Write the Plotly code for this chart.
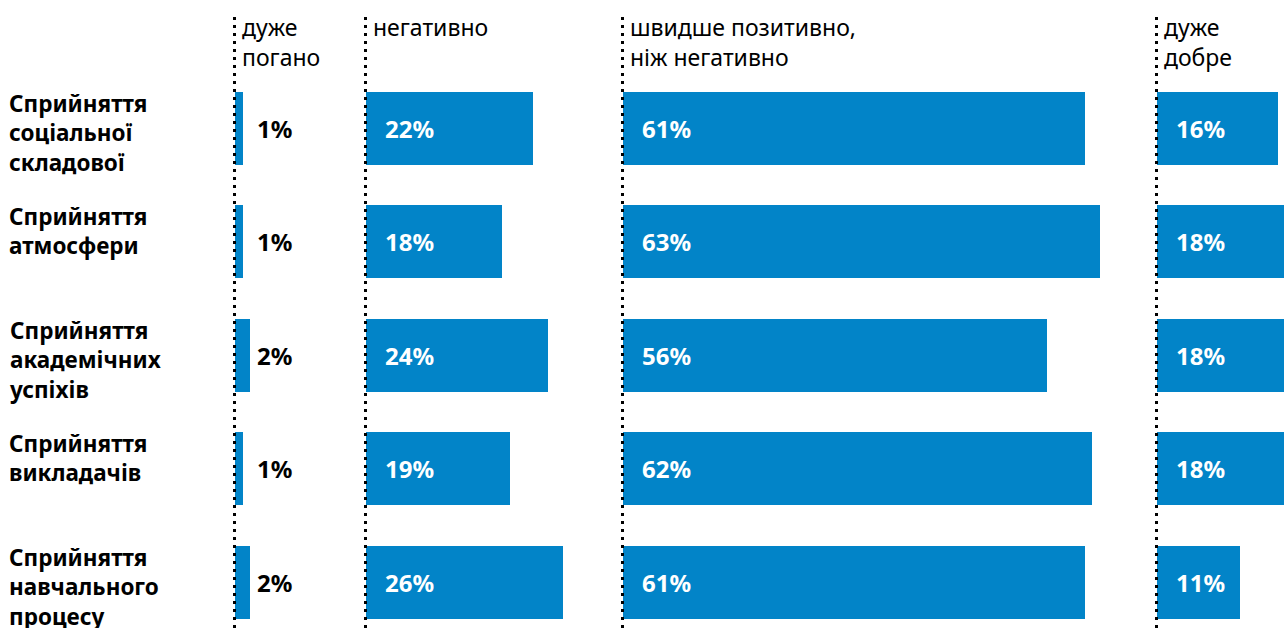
import plotly.graph_objects as go

# ---- data ----
categories = [
    "Сприйняття<br>соціальної<br>складової",
    "Сприйняття<br>атмосфери",
    "Сприйняття<br>академічних<br>успіхів",
    "Сприйняття<br>викладачів",
    "Сприйняття<br>навчального<br>процесу",
]
column_titles = ["дуже<br>погано", "негативно", "швидше позитивно,<br>ніж негативно", "дуже<br>добре"]
very_bad = [1, 1, 2, 1, 2]
negative = [22, 18, 24, 19, 26]
rather_positive = [61, 63, 56, 62, 61]
very_good = [16, 18, 18, 18, 11]
series = [very_bad, negative, rather_positive, very_good]

# ---- layout constants ----
W, H = 1284, 628
BLUE = "#0284C8"
FONT = "Noto Sans"
PX_PER_PCT = 7.57
starts = [235, 366, 623, 1157]
ends = [355, 610, 1150, 1284]
rows = list(range(len(categories)))
row_px0, row_step = 128, 113.5
bar_h = 73 / row_step

fig = go.Figure()
axis_names = ["x", "x2", "x3", "x4"]
for k, vals in enumerate(series):
    fig.add_trace(go.Bar(
        x=vals, y=rows, orientation="h", base=0,
        marker=dict(color=BLUE, line=dict(width=0)),
        width=bar_h, xaxis=axis_names[k], yaxis="y",
        hoverinfo="skip", showlegend=False,
    ))

layout = dict(
    width=W, height=H, autosize=False,
    margin=dict(l=0, r=0, t=0, b=0),
    paper_bgcolor="white", plot_bgcolor="white",
    font=dict(family=FONT, color="black"),
    bargap=0,
    yaxis=dict(range=[(H - row_px0) / row_step, -row_px0 / row_step],
               visible=False, domain=[0, 1], fixedrange=True),
)
for k in range(4):
    key = "xaxis" if k == 0 else f"xaxis{k+1}"
    layout[key] = dict(
        domain=[starts[k] / W, ends[k] / W],
        range=[0, (ends[k] - starts[k]) / PX_PER_PCT],
        visible=False, anchor="y", fixedrange=True,
    )
fig.update_layout(**layout)

annotations = []
# row labels
for i, cat in enumerate(categories):
    annotations.append(dict(
        text=f"<b>{cat}</b>", xref="paper", yref="y",
        x=7 / W, y=i - bar_h / 2, xanchor="left", yanchor="top",
        yshift=6, align="left", showarrow=False,
        font=dict(size=22.5, family=FONT, color="black"),
    ))
# column titles
for k, t in enumerate(column_titles):
    annotations.append(dict(
        text=t, xref="paper", yref="paper",
        x=(starts[k] + 5) / W, y=1 - 9 / H, xanchor="left", yanchor="top",
        align="left", showarrow=False,
        font=dict(size=23, family=FONT, color="black"),
    ))
# value labels
for k, vals in enumerate(series):
    for i, v in enumerate(vals):
        inside = k > 0
        annotations.append(dict(
            text=f"<b>{v}%</b>", xref=axis_names[k], yref="y",
            x=0, y=i, xanchor="left", yanchor="middle",
            xshift=(17 if inside else 20), showarrow=False,
            font=dict(size=24, family=FONT, color="white" if inside else "black"),
        ))
fig.update_layout(annotations=annotations)

# dotted separators
for s in starts:
    fig.add_shape(type="line", xref="paper", yref="paper",
                  x0=(s - 0.5) / W, x1=(s - 0.5) / W, y0=0, y1=1 - 17 / H,
                  line=dict(color="black", width=3, dash="3px,5px"),
                  layer="above")

fig.write_html(
    "out.html",
    config={"displayModeBar": False, "staticPlot": True},
    post_script="document.body.style.margin='0';document.body.style.overflow='hidden';",
)
